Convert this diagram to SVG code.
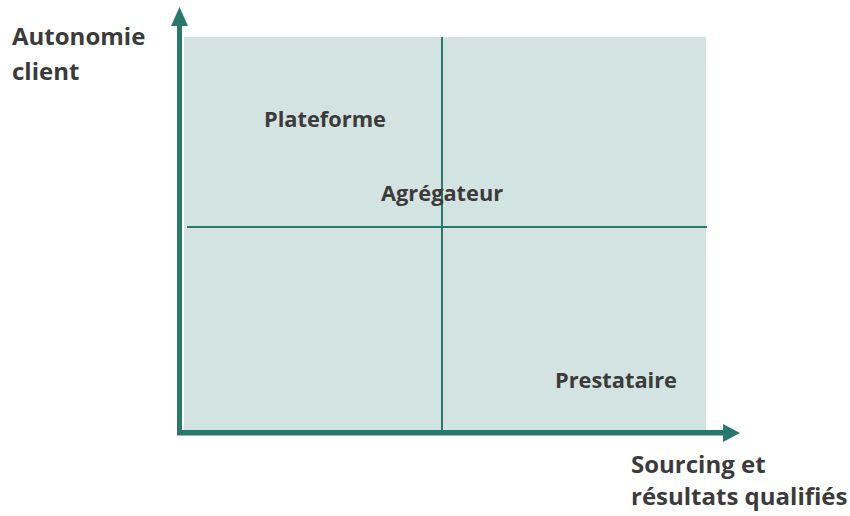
<svg xmlns="http://www.w3.org/2000/svg" width="850" height="516" viewBox="0 0 850 516">
<style>
.t{font-family:"Open Sans","Liberation Sans",sans-serif;font-weight:bold;fill:#3b3b3b}
.big{font-size:24px}
.lab{font-size:21.8px}
.ax{fill:#28786e}
.div{stroke:#28786e;stroke-width:2;fill:none}
</style>
<rect id="plane" x="184" y="37" width="522" height="393" fill="#d3e3e1"/>
<g id="connectors">
<line class="div" x1="442" y1="37" x2="442" y2="430"/>
<line class="div" x1="187" y1="227" x2="707" y2="227"/>
<rect class="ax" x="177" y="25" width="5" height="410"/>
<polygon class="ax" points="179.5,7 171,26 188,26"/>
<rect class="ax" x="177" y="430" width="547" height="5.5"/>
<polygon class="ax" points="740,433 723,424 723,442"/>
</g>
<g id="axis-y"><text class="t big" x="12" y="45">Autonomie</text><text class="t big" x="12" y="80">client</text></g>
<g id="axis-x"><text class="t big" x="631" y="473">Sourcing et</text><text class="t big" x="631" y="505">résultats qualifiés</text></g>
<g id="plateforme"><text class="t lab" x="264" y="127">Plateforme</text></g>
<g id="agregateur"><text class="t lab" x="381" y="201">Agrégateur</text></g>
<g id="prestataire"><text class="t lab" x="555" y="388">Prestataire</text></g>
</svg>
